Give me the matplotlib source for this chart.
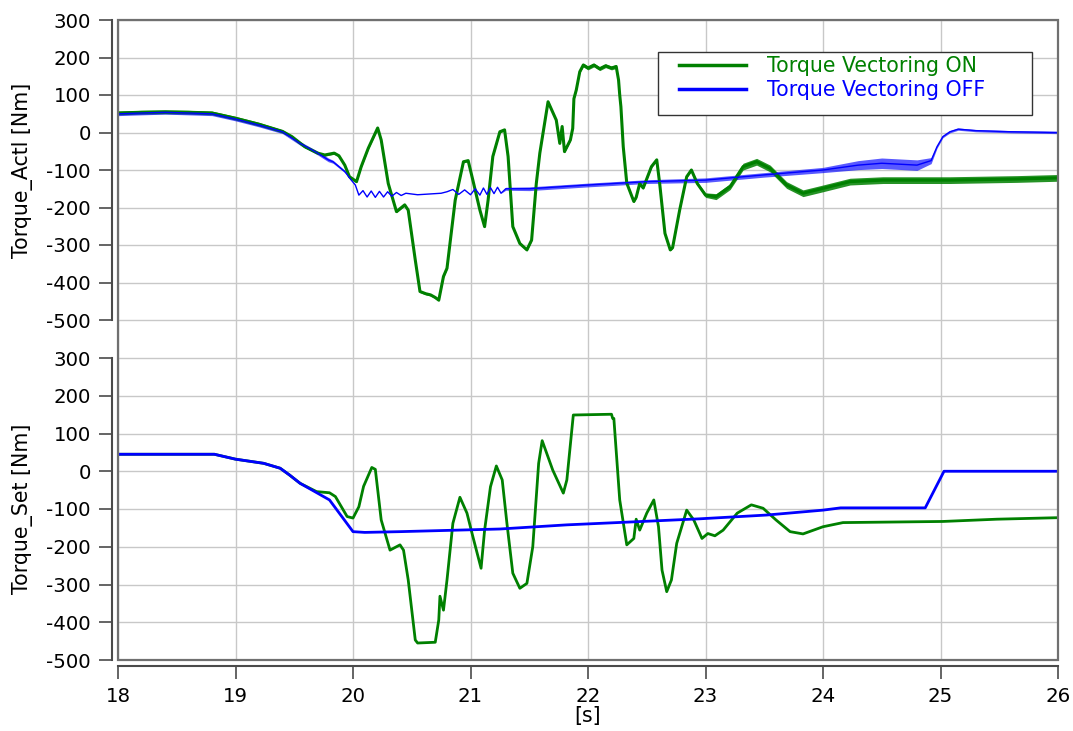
import matplotlib
matplotlib.use('Agg')
import matplotlib.pyplot as plt
from matplotlib.patches import Rectangle
import numpy as np

plt.rcParams['font.family'] = ['DejaVu Sans']
plt.rcParams['axes.unicode_minus'] = False

# ---- data ----
# Torque_Actl, Torque Vectoring ON (green); band = half width of the measurement noise
actl_on_t = [18.00, 18.20, 18.40, 18.60, 18.80, 19.00, 19.20, 19.40, 19.48, 19.59, 19.70, 19.76,
             19.84, 19.88, 19.93, 19.97, 20.03, 20.07, 20.13, 20.21, 20.24, 20.30, 20.37, 20.44,
             20.47, 20.53, 20.57, 20.62, 20.66, 20.70, 20.73, 20.77, 20.80, 20.87, 20.94, 20.98,
             21.02, 21.08, 21.12, 21.15, 21.19, 21.25, 21.29, 21.32, 21.36, 21.42, 21.48, 21.52,
             21.56, 21.59, 21.66, 21.73, 21.76, 21.78, 21.80, 21.85, 21.87, 21.88, 21.90, 21.93,
             21.96, 22.00, 22.05, 22.10, 22.15, 22.20, 22.24, 22.26, 22.27, 22.28, 22.30, 22.33,
             22.39, 22.41, 22.44, 22.47, 22.54, 22.585, 22.61, 22.655, 22.70, 22.72, 22.78, 22.84,
             22.88, 22.93, 23.00, 23.09, 23.21, 23.32, 23.435, 23.55, 23.69, 23.83, 24.00, 24.23,
             24.51, 25.08, 25.65, 26.00]
actl_on_v = [52, 54, 55, 54, 52, 38, 22, 3, -11, -38, -55, -60,
             -55, -62, -87, -118, -131, -91, -42, 12, -20, -136, -211, -193,
             -207, -340, -424, -430, -433, -440, -447, -384, -362, -180, -78, -75,
             -127, -207, -251, -180, -64, 2, 7, -64, -251, -296, -313, -287,
             -136, -55, 82, 33, -29, 16, -51, -20, 11, 90, 113, 162,
             180, 172, 180, 170, 178, 172, 176, 140, 100, 69, -38, -135,
             -184, -173, -136, -148, -91, -73, -136, -269, -313, -307, -207, -118,
             -100, -136, -167, -171, -144, -91, -78, -96, -140, -162, -149, -131,
             -127, -127, -124, -121]
actl_on_band = [5, 5, 5, 5, 5, 5, 5, 4, 3, 3, 3, 3,
                3, 3, 3, 3, 3, 3, 3, 3, 3, 3, 3, 3,
                3, 3, 3, 3, 3, 3, 3, 3, 3, 3, 3, 3,
                3, 3, 3, 3, 3, 3, 3, 3, 3, 3, 3, 3,
                3, 3, 3, 3, 3, 3, 3, 3, 3, 3, 3, 3,
                5, 5, 5, 5, 5, 5, 5, 3, 3, 3, 3, 3,
                3, 3, 3, 3, 3, 3, 3, 3, 3, 3, 3, 3,
                3, 4, 6, 8, 8, 9, 9, 9, 9, 9, 9, 9,
                9, 9, 9, 9]

# Torque_Actl, Torque Vectoring OFF (blue)
actl_off_t = [18.00, 18.40, 18.80, 19.00, 19.20, 19.40, 19.55, 19.70, 19.79, 19.83, 19.93, 19.98,
              20.02, 20.05, 20.085, 20.12, 20.155, 20.19, 20.225, 20.26, 20.295, 20.33, 20.37, 20.41,
              20.45, 20.55, 20.65, 20.75, 20.80, 20.85, 20.90, 20.95, 21.00, 21.04, 21.08, 21.11,
              21.14, 21.17, 21.20, 21.23, 21.26, 21.30, 21.50, 22.00, 22.50, 23.00, 23.50, 24.00,
              24.30, 24.50, 24.80, 24.92, 24.97, 25.02, 25.08, 25.15, 25.30, 25.60, 26.00]
actl_off_v = [50, 54, 50, 36, 20, 2, -29, -55, -73, -78, -104, -125,
              -140, -167, -155, -172, -156, -173, -157, -172, -158, -170, -160, -168,
              -162, -166, -164, -162, -158, -152, -165, -153, -166, -150, -167, -148,
              -165, -147, -163, -146, -162, -150, -150, -140, -131, -127, -113, -100,
              -87, -82, -87, -75, -38, -11, 2, 9, 5, 2, 0]
actl_off_band = [5, 5, 5, 5, 5, 5, 5, 5, 5, 4, 3, 0,
                 0, 0, 0, 0, 0, 0, 0, 0, 0, 0, 0, 0,
                 0, 0, 0, 0, 0, 0, 0, 0, 0, 0, 0, 0,
                 0, 0, 0, 0, 0, 4, 5, 5, 5, 6, 6, 7,
                 12, 14, 14, 8, 4, 3, 3, 3, 3, 3, 3]

# Torque_Set, Torque Vectoring ON (green)
set_on_t = [18.00, 18.82, 19.00, 19.24, 19.38, 19.46, 19.55, 19.69, 19.80, 19.85, 19.95, 20.00,
            20.05, 20.09, 20.16, 20.19, 20.24, 20.315, 20.40, 20.43, 20.47, 20.53, 20.55, 20.70,
            20.73, 20.74, 20.77, 20.80, 20.85, 20.91, 20.97, 21.02, 21.09, 21.12, 21.17, 21.22,
            21.27, 21.31, 21.36, 21.42, 21.48, 21.53, 21.58, 21.61, 21.70, 21.79, 21.82, 21.875,
            22.20, 22.21, 22.22, 22.27, 22.33, 22.39, 22.41, 22.44, 22.50, 22.56, 22.60, 22.63,
            22.67, 22.71, 22.755, 22.84, 22.90, 22.97, 23.02, 23.08, 23.15, 23.27, 23.39, 23.49,
            23.60, 23.72, 23.83, 24.00, 24.17, 25.02, 25.48, 26.00]
set_on_v = [45, 45, 32, 21, 8, -10, -32, -54, -57, -67, -120, -124,
            -94, -40, 10, 5, -129, -209, -195, -209, -288, -447, -455, -453,
            -394, -331, -368, -288, -138, -69, -111, -173, -257, -156, -41, 14,
            -23, -138, -270, -310, -297, -200, 21, 81, 3, -58, -23, 149,
            151, 140, 140, -76, -195, -178, -127, -156, -111, -76, -147, -262,
            -319, -288, -191, -103, -129, -178, -165, -171, -156, -111, -89, -98,
            -129, -160, -166, -147, -136, -133, -127, -123]

# Torque_Set, Torque Vectoring OFF (blue)
set_off_t = [18.00, 18.82, 19.00, 19.24, 19.38, 19.46, 19.55, 19.80, 20.00, 20.10, 20.40, 21.25,
             21.82, 22.39, 22.95, 23.52, 24.00, 24.15, 24.87, 25.03, 26.00]
set_off_v = [45, 45, 32, 21, 8, -10, -32, -76, -160, -162, -160, -153,
             -142, -134, -126, -116, -103, -97, -97, 0, 0]

x_ticks = [18, 19, 20, 21, 22, 23, 24, 25, 26]
y_ticks = [-500, -400, -300, -200, -100, 0, 100, 200, 300]

green = '#008000'
blue = '#0000ff'
spine_col = '#4a4a4a'
fs_tick = 14.2
fs = 14.8

fig = plt.figure(figsize=(10.73, 7.31), dpi=100)
W, H = 1073.0, 731.0
left, right = 118, 1058
top, mid, bot = 20, 339, 660
ax1 = fig.add_axes([left / W, 1 - mid / H, (right - left) / W, (mid - top) / H])
ax2 = fig.add_axes([left / W, 1 - bot / H, (right - left) / W, (bot - mid) / H])

for ax in (ax1, ax2):
    ax.set_xlim(18, 26)
    ax.set_xticks(x_ticks)
    ax.set_yticks(y_ticks)
    ax.grid(True, color='#c8c8c8', lw=1)
    ax.set_axisbelow(True)
    ax.patch.set_visible(False)
    for s in ('top', 'right', 'bottom'):
        ax.spines[s].set_visible(False)
    ax.spines['left'].set_position(('outward', 4))
    ax.spines['left'].set_bounds(-500, 300)
    ax.spines['left'].set_color(spine_col)
    ax.spines['left'].set_linewidth(1.5)
    ax.tick_params(length=9.5, width=1.2, color=spine_col, labelsize=fs_tick, pad=6)

ax1.set_ylim(-500 - (mid - 320) / 0.375, 300)
ax2.set_ylim(-500, 300 + (358 - mid) / 0.3775)
ax1.tick_params(axis='x', bottom=False, labelbottom=False)
ax2.spines['bottom'].set_visible(True)
ax2.spines['bottom'].set_position(('outward', 4))
ax2.spines['bottom'].set_bounds(18, 26)
ax2.spines['bottom'].set_color(spine_col)
ax2.spines['bottom'].set_linewidth(1.5)

# top panel: measured torque with noise band
t = np.array(actl_on_t)
v = np.array(actl_on_v)
b = np.array(actl_on_band)
ax1.fill_between(t, v - b, v + b, color=green, lw=0, alpha=0.85)
ax1.plot(t, v, color=green, lw=2.2, label='Torque Vectoring ON')
t = np.array(actl_off_t)
v = np.array(actl_off_v)
b = np.array(actl_off_band)
ax1.fill_between(t, v - b, v + b, color=blue, lw=0, alpha=0.65)
ax1.plot(t, v, color=blue, lw=1.0, label='Torque Vectoring OFF')

# bottom panel: set torque
ax2.plot(set_on_t, set_on_v, color=green, lw=2.0)
ax2.plot(set_off_t, set_off_v, color=blue, lw=2.0)

ax1.set_ylabel('Torque_Actl [Nm]', fontsize=fs)
ax1.yaxis.set_label_coords(-0.0904, 0.53)
ax2.set_ylabel('Torque_Set [Nm]', fontsize=fs)
ax2.yaxis.set_label_coords(-0.0904, 0.47)
ax2.set_xlabel('[s]', fontsize=fs, labelpad=0)

# legend: box drawn separately so it can be wider than its padding allows
ax1.add_patch(Rectangle((658 / W, 1 - 115 / H), 374 / W, 63.3 / H, transform=fig.transFigure,
                        facecolor='white', edgecolor='#333333', lw=1.0, zorder=4))
leg = ax1.legend(loc='upper left', bbox_to_anchor=((679 - left) / 940, (mid - 56) / 319),
                 borderaxespad=0, borderpad=0, fontsize=fs, handlelength=3.26,
                 handletextpad=1.0, labelspacing=0.2, frameon=False)
for txt, col in zip(leg.get_texts(), (green, blue)):
    txt.set_color(col)
for ln in leg.get_lines():
    ln.set_linewidth(2.5)

# plot frame around both panels
fig.patches.append(Rectangle((left / W, 1 - bot / H), (right - left) / W, (bot - top) / H,
                             transform=fig.transFigure, fill=False, edgecolor='#707070',
                             lw=1.6, zorder=5))

fig.savefig('out.png', dpi=100)
